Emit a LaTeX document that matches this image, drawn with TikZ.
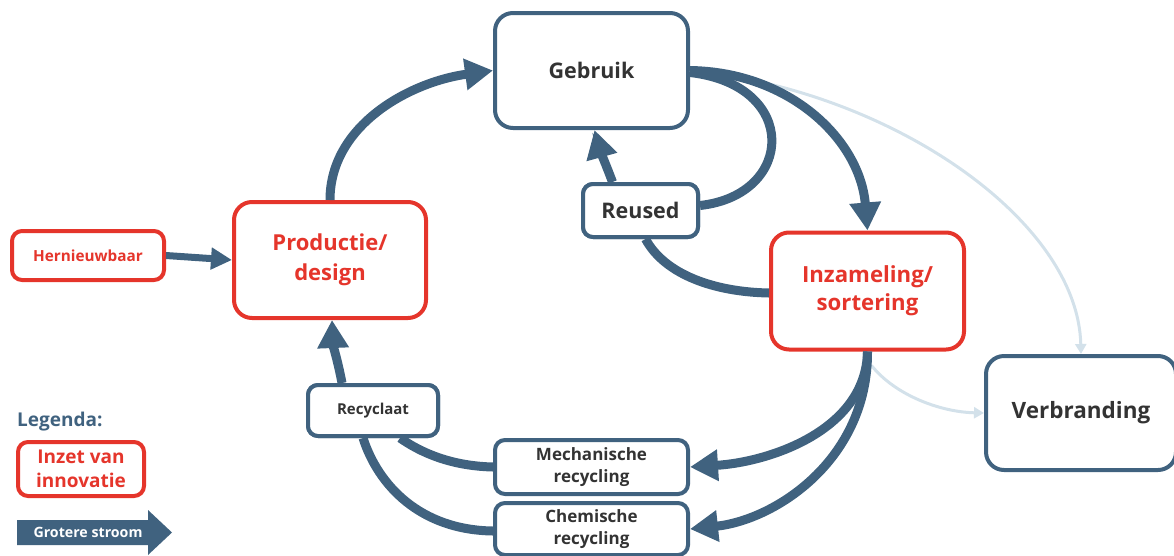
\documentclass[tikz,border=0pt]{standalone}
\usepackage{fontspec}
\setmainfont{Open Sans}
\usetikzlibrary{arrows.meta}
\definecolor{flow}{HTML}{40627F}
\definecolor{innov}{HTML}{E5352B}
\definecolor{faint}{HTML}{D3E1EA}
\definecolor{ink}{HTML}{333333}
\tikzset{
  box/.style={draw=flow, line width=4pt, fill=white, rounded corners=18pt,
    text=ink, font=\bfseries\fontsize{21.5}{26}\selectfont, align=center, inner sep=0pt},
  redbox/.style={box, draw=innov, text=innov},
  smallbox/.style={box, rounded corners=10pt, font=\bfseries\fontsize{17}{22}\selectfont},
  flowline/.style={draw=flow, line width=9pt},
  flowarrow/.style={flowline, -{Triangle[length=28pt,width=30pt]}},
  thinflow/.style={draw=faint, line width=3pt, -{Triangle[length=10pt,width=11pt]}},
  reusedbox/.style={smallbox, minimum width=115pt, minimum height=53pt, font=\bfseries\fontsize{21.5}{24}\selectfont},
  recybox/.style={smallbox, minimum width=130pt, minimum height=51pt, font=\bfseries\fontsize{15}{18}\selectfont},
}
\begin{document}
\begin{tikzpicture}[x=1pt,y=-1pt]
\useasboundingbox (0,0) rectangle (1174,555);

% nodes of the cycle
\node[box, minimum width=193pt, minimum height=115pt] (use) at (591.5,70.5) {Gebruik};
\node[redbox, minimum width=192pt, minimum height=116pt, font=\bfseries\fontsize{22}{30}\selectfont] (prod) at (330,260) {Productie/\\design};
\node[redbox, rounded corners=10pt, minimum width=152pt, minimum height=49pt, font=\bfseries\fontsize{15.3}{18}\selectfont] (hern) at (88,255.5) {Hernieuwbaar};
\node[reusedbox] (reuse) at (640.5,210.5) {Reused};
\node[redbox, minimum width=193pt, minimum height=117pt, font=\bfseries\fontsize{22.2}{28}\selectfont] (inz) at (867.5,291) {Inzameling/\\sortering};
\node[box, minimum width=190pt, minimum height=114pt, font=\bfseries\fontsize{22.5}{26}\selectfont] (verb) at (1081,413) {Verbranding};
\node[recybox] (recy) at (373,410.5) {Recyclaat};
\node[smallbox, minimum width=193pt, minimum height=54pt] (mech) at (591.5,467) {Mechanische\\recycling};
\node[smallbox, minimum width=193pt, minimum height=52pt] (chem) at (591.5,529) {Chemische\\recycling};

% faint side flows to incineration
\draw[thinflow] (use.east) .. controls (890,90) and (1078,220) .. (verb.north);
\draw[thinflow] ([xshift=4pt,yshift=-14pt]inz.south) .. controls (895,395) and (940,412) .. (verb.west);

% main flows
\draw[flowarrow] (prod.north) .. controls (330,125) and (410,82) .. (use.west);
\draw[flowarrow] (use.east) .. controls (790,72) and (860,140) .. (inz.north);
\draw[flowline] ([yshift=-2pt]use.east) .. controls (800,85) and (795,195) .. ([yshift=5pt]reuse.east);
\draw[flowarrow] ([xshift=-28pt]reuse.north) .. controls (606,165) and (600,150) .. ([xshift=3pt]use.south);
\draw[flowline] ([yshift=-2pt]inz.west) .. controls (715,292) and (665,275) .. ([xshift=5pt]reuse.south);
\draw[flowarrow] (inz.south) .. controls (866,430) and (770,462) .. (mech.east);
\draw[flowarrow] (inz.south) .. controls (868,460) and (775,520) .. (chem.east);
\draw[flowline] (mech.west) .. controls (450,466) and (420,452) .. ([xshift=27pt]recy.south);
\draw[flowline] ([yshift=-2pt]chem.west) .. controls (420,530) and (378,485) .. ([xshift=-10pt]recy.south);
\draw[flowarrow] ([xshift=-31pt]recy.north) .. controls (338,362) and (333,345) .. ([xshift=2pt]prod.south);
\draw[flowline, line width=7pt, -{Triangle[length=21pt,width=21pt]}] (hern.east) -- (prod.west);

% redraw the boxes that the flows touch so their frames stay on top
\node[reusedbox] at (reuse) {Reused};
\node[recybox] at (recy) {Recyclaat};

% legend
\node[anchor=west, text=flow, font=\bfseries\fontsize{19}{22}\selectfont, inner sep=0pt] (legtitle) at (17,422) {Legenda:};
\node[redbox, rounded corners=10pt, minimum width=126pt, minimum height=54pt, font=\bfseries\fontsize{19}{24}\selectfont] (legbox) at (81,469) {Inzet van\\innovatie};
\fill[flow] (17,520) -- (148,520) -- (148,510) -- (172,532.5) -- (148,555) -- (148,545) -- (17,545) -- cycle;
\node[text=white, font=\bfseries\fontsize{14.2}{16}\selectfont, inner sep=0pt] (legarrow) at (88,532.5) {Grotere stroom};
\end{tikzpicture}
\end{document}
